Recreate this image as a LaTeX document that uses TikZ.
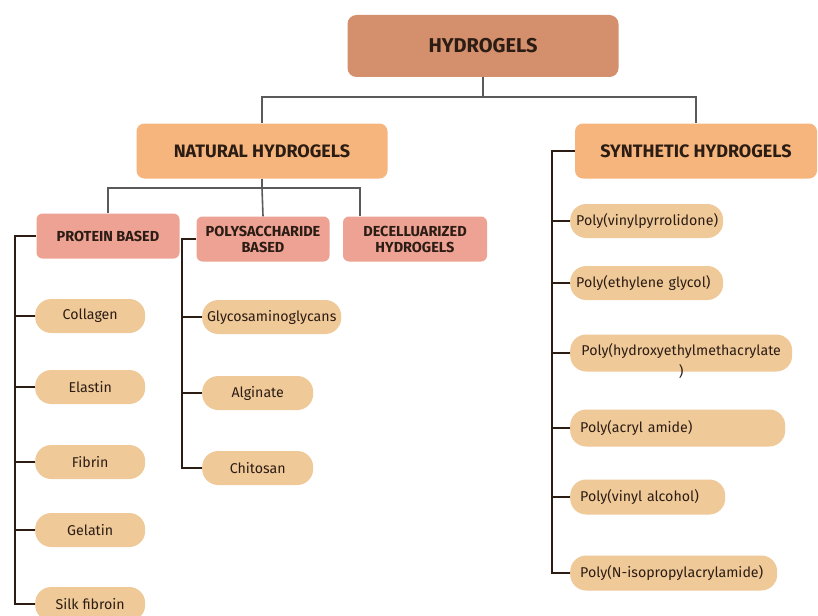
\documentclass[tikz,border=0pt]{standalone}
\usepackage{fontspec}
\setmainfont{Fira Sans}
\usetikzlibrary{calc,positioning}
\definecolor{rootfill}{HTML}{D48F6C}
\definecolor{groupfill}{HTML}{F6B57C}
\definecolor{subfill}{HTML}{EDA294}
\definecolor{itemfill}{HTML}{F0C998}
\definecolor{inkcol}{HTML}{2B1C14}
\definecolor{wirecol}{HTML}{5A5A5A}
\tikzset{
    hydro tree/.style = {x=1pt, y=-1pt},
    box/.style        = {text=inkcol, inner sep=2pt, align=center},
    root/.style       = {box, fill=rootfill, rounded corners=9pt,
                         minimum width=271pt, minimum height=62pt,
                         font=\fontsize{20}{22}\selectfont\bfseries},
    group/.style      = {box, fill=groupfill, rounded corners=8pt,
                         minimum height=55pt,
                         font=\fontsize{18}{20}\selectfont\bfseries},
    sub/.style        = {box, fill=subfill, rounded corners=6pt,
                         minimum height=45pt,
                         font=\fontsize{14.5}{16}\selectfont\bfseries},
    item/.style       = {box, fill=itemfill, rounded corners=16pt,
                         anchor=west, minimum height=34pt,
                         font=\fontsize{14.2}{21}\selectfont},
    sitem/.style      = {item, align=left, inner xsep=10pt},
    tree/.style       = {draw=wirecol, line width=1.6pt},
    bracket/.style    = {draw=inkcol, line width=2.2pt}
}
\def\grouprow{151}
\def\subrow{239}
\def\protcol{35}
\def\polycol{202}
\def\syncol{570}

\begin{document}
\begin{tikzpicture}[hydro tree]
\useasboundingbox[fill=white] (0,0) rectangle (818,615);
% Top of the tree: root and the two main groups.
\node[root] (hydrogels) at (483,46) {HYDROGELS};
\node[group, minimum width=251pt] (natural) at (262,\grouprow) {NATURAL HYDROGELS};
\node[group, minimum width=242pt] (synthetic) at (696,\grouprow) {SYNTHETIC HYDROGELS};
\coordinate (rootbus) at (483,97);
\draw[tree] (hydrogels.south) -- (rootbus);
\draw[tree] (natural.north) |- (rootbus) -| (synthetic.north);

% Natural hydrogels split in three.
\node[sub, minimum width=143pt] (protein) at (108,236) {PROTEIN BASED};
\node[sub, minimum width=133pt] (polysac) at (263,\subrow) {POLYSACCHARIDE\\BASED};
\node[sub, minimum width=144pt] (decell) at (415,\subrow) {DECELLUARIZED\\HYDROGELS};
\coordinate (natbus) at (262,188);
\coordinate (decelldrop) at ($(decell.north west)+(17,0)$);
\draw[tree] (natural.south) -- (natbus);
\draw[tree] (protein.north) |- (natbus) -| (decelldrop);
\draw[tree] (natbus) -- (polysac.north);

% Protein based
\node[item, minimum width=110pt] (collagen) at (\protcol,316) {Collagen};
\node[item, minimum width=110pt] (elastin) at (\protcol,387) {Elastin};
\node[item, minimum width=110pt] (fibrin) at (\protcol,462) {Fibrin};
\node[item, minimum width=110pt] (gelatin) at (\protcol,530) {Gelatin};
\node[item, minimum width=110pt] (silk) at (\protcol,604) {Silk fibroin};
\coordinate (protbar) at ($(protein.west)+(-21,0)$);
\draw[bracket] (protein.west) -- (protbar) |- (silk.west);
\foreach \n in {collagen,elastin,fibrin,gelatin}
  \draw[bracket] (protbar |- \n.west) -- (\n.west);

% Polysaccharide based
\node[item, minimum width=139pt, inner xsep=0pt] (glyco) at (\polycol,317) {Glycosaminoglycans};
\node[item, minimum width=111pt] (alginate) at (\polycol,393) {Alginate};
\node[item, minimum width=111pt] (chitosan) at (\polycol,468) {Chitosan};
\coordinate (polybar) at ($(polysac.west)+(-14,0)$);
\draw[bracket] (polysac.west) -- (polybar) |- (chitosan.west);
\foreach \n in {glyco,alginate}
  \draw[bracket] (polybar |- \n.west) -- (\n.west);

% Synthetic hydrogels
\node[sitem, inner xsep=6pt, text width=141pt] (pvp) at (\syncol,221) {Poly(vinylpyrrolidone)};
\node[sitem, inner xsep=6pt, text width=141pt] (peg) at (\syncol,283) {Poly(ethylene glycol)};
\node[item, minimum width=222pt, minimum height=37pt, inner xsep=0pt,
      text height=.7em, text depth=.2em]
  (phema) at (\syncol,353)
  {\begin{tabular}[t]{@{}c@{}}Poly(hydroxyethylmethacrylate\\)\end{tabular}};
\node[sitem, text width=195pt, minimum height=37pt] (paam) at (\syncol,428) {Poly(acryl amide)};
\node[sitem, text width=135pt, minimum height=35pt] (pva) at (\syncol,497) {Poly(vinyl alcohol)};
\node[sitem, text width=187pt, minimum height=35pt] (pnipam) at (\syncol,573) {Poly(N-isopropylacrylamide)};
\coordinate (synbar) at ($(synthetic.west)+(-23,0)$);
\draw[bracket] (synthetic.west) -- (synbar) |- (pnipam.west);
\foreach \n in {pvp,peg,phema,paam,pva}
  \draw[bracket] (synbar |- \n.west) -- (\n.west);

\end{tikzpicture}
\end{document}
